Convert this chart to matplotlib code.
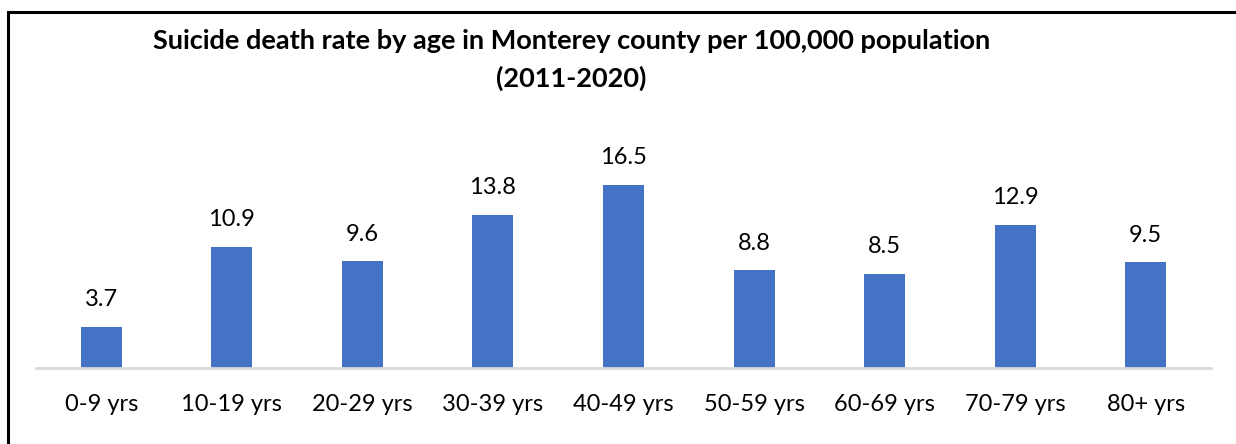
import matplotlib.pyplot as plt
from matplotlib.patches import Rectangle

plt.rcParams['font.family'] = ['Lato', 'DejaVu Sans']

ages = ['0-9 yrs', '10-19 yrs', '20-29 yrs', '30-39 yrs', '40-49 yrs',
        '50-59 yrs', '60-69 yrs', '70-79 yrs', '80+ yrs']
rates = [3.7, 10.9, 9.6, 13.8, 16.5, 8.8, 8.5, 12.9, 9.5]

W, H = 1236, 444
fig = plt.figure(figsize=(W / 100, H / 100), dpi=100)

# plot area placed in pixel units
left, right, base, top = 36, 1211, 368, 168
ax = fig.add_axes([left / W, (H - base) / H, (right - left) / W, (base - top) / H])

x = range(len(ages))
bars = ax.bar(x, rates, width=0.314, color='#4472C4', zorder=2)
ax.set_xlim(-0.5, len(ages) - 0.5)
ax.set_ylim(0, 18)

for b, v in zip(bars, rates):
    ax.annotate(f'{v}', (b.get_x() + b.get_width() / 2, v),
                xytext=(0, 12), textcoords='offset points',
                ha='center', va='bottom', fontsize=17, color='#000000')

ax.set_xticks(list(x))
ax.set_xticklabels(ages, fontsize=17)
ax.tick_params(axis='x', length=0, pad=19)
ax.set_yticks([])
for s in ['top', 'right', 'left']:
    ax.spines[s].set_visible(False)
ax.spines['bottom'].set_color('#D9D9D9')
ax.spines['bottom'].set_linewidth(2)

fig.text(571.5 / W, 1 - 41 / H,
         'Suicide death rate by age in Monterey county per 100,000 population',
         ha='center', va='center', fontsize=19.5, fontweight='bold')
fig.text(571.5 / W, 1 - 78 / H, '(2011-2020)',
         ha='center', va='center', fontsize=19.5, fontweight='bold')

# outer frame, running off the right and bottom edges
fig.patches.append(Rectangle((8 / W, -0.1), 1.1, 1.1 - 12 / H,
                             transform=fig.transFigure, fill=False,
                             edgecolor='black', linewidth=2.2))

fig.savefig('out.png', dpi=100)
